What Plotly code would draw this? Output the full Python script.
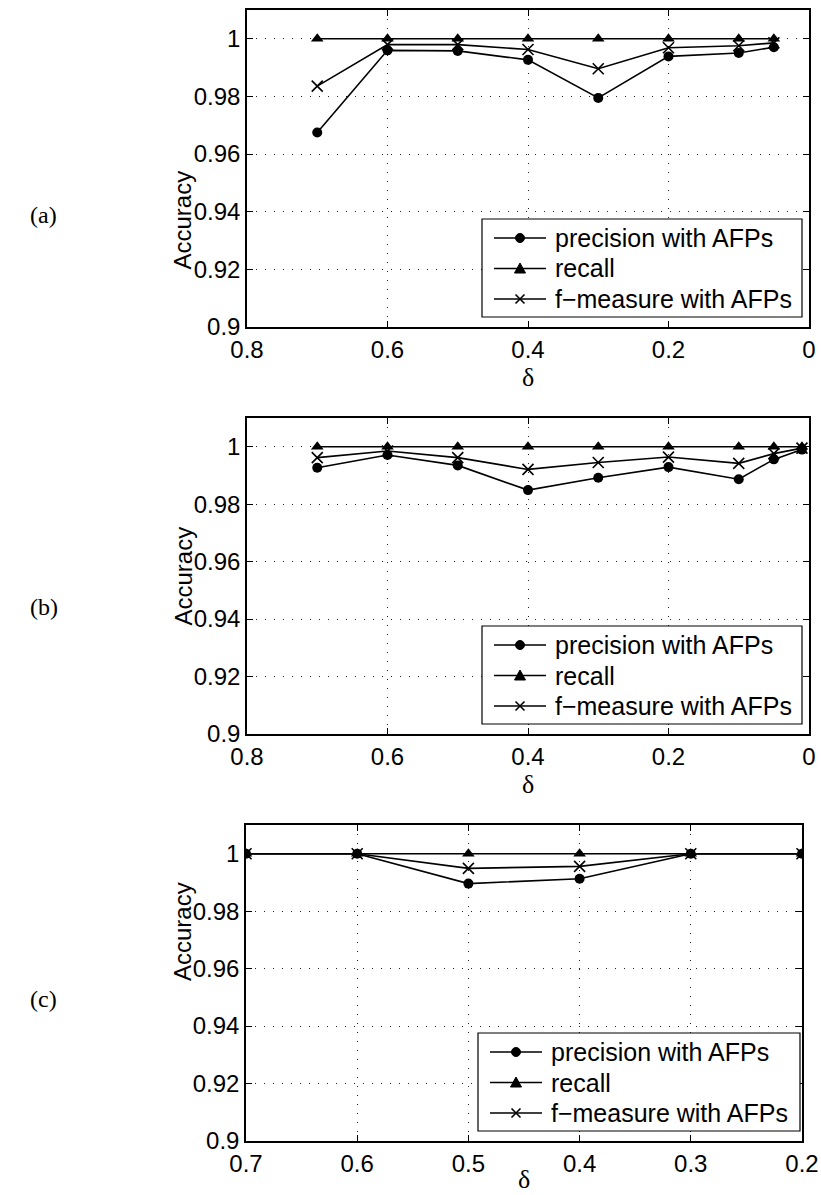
import plotly.graph_objects as go

# ---------------- data ----------------
delta_a = [0.7, 0.6, 0.5, 0.4, 0.3, 0.2, 0.1, 0.05]
prec_a = [0.9675, 0.9960, 0.9958, 0.9927, 0.9795, 0.9939, 0.9951, 0.9971]
rec_a = [1.0, 1.0, 1.0, 1.0, 1.0, 1.0, 1.0, 1.0]
f_a = [0.9836, 0.9980, 0.9980, 0.9963, 0.9896, 0.9969, 0.9976, 0.9986]

delta_b = [0.7, 0.6, 0.5, 0.4, 0.3, 0.2, 0.1, 0.05, 0.01]
prec_b = [0.9927, 0.9971, 0.9935, 0.9849, 0.9892, 0.9929, 0.9887, 0.9956, 0.9990]
rec_b = [1.0, 1.0, 1.0, 1.0, 1.0, 1.0, 1.0, 1.0, 1.0]
f_b = [0.9962, 0.9985, 0.9962, 0.9921, 0.9945, 0.9964, 0.9942, 0.9976, 0.9995]

delta_c = [0.7, 0.6, 0.5, 0.4, 0.3, 0.2]
prec_c = [1.0, 1.0, 0.9896, 0.9913, 1.0, 1.0]
rec_c = [1.0, 1.0, 1.0, 1.0, 1.0, 1.0]
f_c = [1.0, 1.0, 0.9949, 0.9956, 1.0, 1.0]

series_names = ["precision with AFPs", "recall", "f\u2212measure with AFPs"]
panel_labels = ["(a)", "(b)", "(c)"]
y_ticks = [0.9, 0.92, 0.94, 0.96, 0.98, 1.0]
y_ticktext = ["0.9", "0.92", "0.94", "0.96", "0.98", "1"]
x_ticks_ab = [0.8, 0.6, 0.4, 0.2, 0.0]
x_ticktext_ab = ["0.8", "0.6", "0.4", "0.2", "0"]
x_ticks_c = [0.7, 0.6, 0.5, 0.4, 0.3, 0.2]
x_ticktext_c = ["0.7", "0.6", "0.5", "0.4", "0.3", "0.2"]

# ---------------- layout geometry (pixels) ----------------
W, H = 821, 1195
# (top, bottom, left, right, legend-left, legend-right, delta-label offset)
panels_px = [
    (10, 327, 247, 809, 482, 802, 50),
    (418, 734, 247, 809, 482, 802, 50),
    (825, 1141, 246, 802, 478, 800, 38),
]

SANS = "Liberation Sans, Arial, Helvetica, sans-serif"
SERIF = "Liberation Serif, DejaVu Serif, serif"


def PX(x):
    return x / W


def PY(y):
    return 1 - y / H


fig = go.Figure()

datasets = [
    (delta_a, prec_a, rec_a, f_a, [0.8, -0.00001], x_ticks_ab, x_ticktext_ab),
    (delta_b, prec_b, rec_b, f_b, [0.8, -0.00001], x_ticks_ab, x_ticktext_ab),
    (delta_c, prec_c, rec_c, f_c, [0.70001, 0.19999], x_ticks_c, x_ticktext_c),
]

marker_specs = [
    dict(symbol="circle", size=10, color="black"),
    dict(symbol="triangle-up", size=11, color="black"),
    dict(symbol="x-thin", size=11, color="black", line=dict(color="black", width=1.6)),
]

shapes = []
for i, (xs, p, r, f, xr, xt, xtt) in enumerate(datasets):
    n = i + 1
    xa = "x" if n == 1 else f"x{n}"
    ya = "y" if n == 1 else f"y{n}"
    for name, vals, mk in zip(series_names, [p, r, f], marker_specs):
        fig.add_trace(go.Scatter(
            x=xs, y=vals, mode="lines+markers", name=name,
            line=dict(color="black", width=1.6),
            marker=mk, xaxis=xa, yaxis=ya, showlegend=False,
        ))
    top, bot, left_px, right_px, lx0, lx1, dlt = panels_px[i]
    ydom = [PY(bot), PY(top)]
    xdom = [PX(left_px), PX(right_px)]
    axis_common = dict(
        showline=True, linecolor="black", linewidth=1.5, mirror="ticks",
        ticks="inside", ticklen=6, tickcolor="black", tickwidth=1,
        showgrid=True, gridcolor="#222222", gridwidth=1, griddash="1px,8px",
        zeroline=False, tickfont=dict(family=SANS, size=24, color="black"),
        automargin=False, ticklabeloverflow="allow",
    )
    fig.layout[f"xaxis{'' if n == 1 else n}"] = dict(
        domain=xdom, range=xr, tickvals=xt, ticktext=xtt, anchor=ya,
        **axis_common)
    fig.layout[f"yaxis{'' if n == 1 else n}"] = dict(
        domain=ydom, range=[0.9, 1.01], tickvals=y_ticks, ticktext=y_ticktext,
        anchor=xa, **axis_common)

    # ---- legend (MATLAB style box, long sample lines) ----
    ly1 = bot - 10
    ly0 = ly1 - 98
    shapes.append(dict(type="rect", xref="paper", yref="paper",
                       x0=PX(lx0), x1=PX(lx1), y0=PY(ly1), y1=PY(ly0),
                       line=dict(color="black", width=1.2), fillcolor="white",
                       layer="above"))
    row_y = [ly0 + 19, ly0 + 49.5, ly0 + 80]
    for k, (name, yy) in enumerate(zip(series_names, row_y)):
        shapes.append(dict(type="line", xref="paper", yref="paper",
                           x0=PX(lx0 + 12), x1=PX(lx0 + 64), y0=PY(yy), y1=PY(yy),
                           line=dict(color="black", width=1.6), layer="above"))
        cx = lx0 + 38
        if k == 0:
            rr = 4.5
            shapes.append(dict(type="circle", xref="paper", yref="paper",
                               x0=PX(cx - rr), x1=PX(cx + rr), y0=PY(yy + rr), y1=PY(yy - rr),
                               fillcolor="black", line=dict(color="black", width=1),
                               layer="above"))
        elif k == 1:
            path = (f"M{PX(cx - 5.5)},{PY(yy + 4.5)} L{PX(cx + 5.5)},{PY(yy + 4.5)} "
                    f"L{PX(cx)},{PY(yy - 5.5)} Z")
            shapes.append(dict(type="path", xref="paper", yref="paper", path=path,
                               fillcolor="black", line=dict(color="black", width=1),
                               layer="above"))
        else:
            d = 4.5
            path = (f"M{PX(cx - d)},{PY(yy - d)} L{PX(cx + d)},{PY(yy + d)} "
                    f"M{PX(cx - d)},{PY(yy + d)} L{PX(cx + d)},{PY(yy - d)}")
            shapes.append(dict(type="path", xref="paper", yref="paper", path=path,
                               line=dict(color="black", width=1.6), layer="above"))
        fig.add_annotation(
            text=name, xref="paper", yref="paper", x=PX(lx0 + 71), y=PY(yy),
            xanchor="left", yanchor="middle", showarrow=False,
            font=dict(family=SANS, size=25, color="black"),
        )

    # y title
    fig.add_annotation(
        text="Accuracy", textangle=-90, xref="paper", yref="paper",
        x=PX(167), y=PY((top + bot) / 2), showarrow=False,
        font=dict(family=SANS, size=24, color="black"),
    )
    # x title
    fig.add_annotation(
        text="\u03b4", xref="paper", yref="paper",
        x=PX((left_px + right_px) / 2), y=PY(bot + dlt), showarrow=False,
        yanchor="middle",
        font=dict(family=SERIF, size=26, color="black"),
    )
    # panel label
    fig.add_annotation(
        text=panel_labels[i], xref="paper", yref="paper",
        x=PX(28), y=PY((top + bot) / 2 + 31), showarrow=False,
        font=dict(family=SERIF, size=24, color="black"),
    )

fig.update_layout(
    width=W, height=H, margin=dict(l=0, r=0, t=0, b=0),
    paper_bgcolor="white", plot_bgcolor="white", showlegend=False,
    shapes=shapes,
)

fig.write_html("out.html")
